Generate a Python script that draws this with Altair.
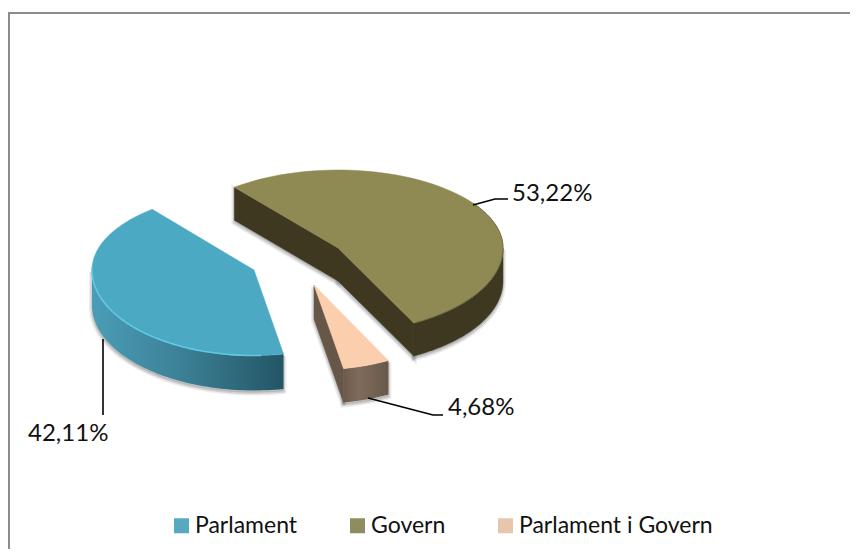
import math
import altair as alt
import pandas as pd

CATEGORIES = ["Parlament", "Govern", "Parlament i Govern"]
SHARES = [42.11, 53.22, 4.68]
LABELS = ["42,11%", "53,22%", "4,68%"]
COLORS = ["#4BA9C4", "#8F8953", "#FBCFAE"]
SWATCHES = ["#45A0BA", "#83804F", "#E3C0A4"]

FONT = "Lato"
FIRST_ANGLE = 79.5
DEPTH = {"Parlament": 35, "Govern": 33, "Parlament i Govern": 34}
# centre x, centre y, x radius, back y radius, front y radius
GEOM = {
    "Parlament": (254, 270, 162, 78, 85.5),
    "Govern": (338, 248, 165, 78, 84.5),
    "Parlament i Govern": (314, 285, 162, 78, 85),
}

W, H = 842, 541
X = alt.X("x:Q", scale=alt.Scale(domain=[8, 8 + W]), axis=None)
Y = alt.Y("y:Q", scale=alt.Scale(domain=[8 + H, 8]), axis=None)

spans = []
a = FIRST_ANGLE
for c, s in zip(CATEGORIES, SHARES):
    e = a + s / sum(SHARES) * 360
    spans.append((c, a, e))
    a = e
SPAN = {c: (s, e) for c, s, e in spans}


def pt(c, t, dz=0):
    cx, cy, rx, rb, rf = GEOM[c]
    r = math.radians(t)
    s = math.sin(r)
    return (cx + rx * math.cos(r), cy + (rf if s > 0 else rb) * s + dz)


def arc(c, t0, t1, dz=0, n=70):
    return [pt(c, t0 + (t1 - t0) * i / n, dz) for i in range(n + 1)]


def poly(points, close=True, **mark):
    pts = list(points) + ([points[0]] if close else [])
    df = pd.DataFrame({"x": [p[0] for p in pts], "y": [p[1] for p in pts], "i": range(len(pts))})
    return alt.Chart(df).mark_line(**mark).encode(x=X, y=Y, order="i:Q")


def grad(stops):
    return alt.Gradient(
        gradient="linear", x1=0, y1=0, x2=1, y2=0,
        stops=[alt.GradientStop(offset=o, color=k) for o, k in stops],
    )


def wall(c, t0, t1):
    d = DEPTH[c]
    return arc(c, t0, t1) + arc(c, t1, t0, d)


def radial(c, t):
    d = DEPTH[c]
    cx, cy = GEOM[c][:2]
    p = pt(c, t)
    return [(cx, cy), p, (p[0], p[1] + d), (cx, cy + d)]


def shadow(points):
    shifted = [(x, y + 2) for x, y in points]
    return [
        poly(shifted, fill="#000000", fillOpacity=0.06, stroke="#000000", strokeOpacity=0.07, strokeWidth=6),
        poly(shifted, fill="#000000", fillOpacity=0.06, stroke="#000000", strokeOpacity=0.12, strokeWidth=3),
    ]


layers = []

rows_top = {c: arc(c, *SPAN[c]) + [GEOM[c][:2]] for c in CATEGORIES}

# Parlament
c = "Parlament"
s, e = SPAN[c]
w = wall(c, s, 180)
layers += shadow(w)
layers.append(poly(w, fill=grad([(0, "#4A9DB6"), (0.5, "#3B7E94"), (1, "#235665")]), strokeWidth=0))

# Govern
c = "Govern"
s, e = SPAN[c]
end = e - 360
r1 = radial(c, s)
r2 = radial(c, end)
w = wall(c, 0, end)
for part in (r1, r2, w):
    layers += shadow(part)
for part in (r1, r2, w):
    layers.append(poly(part, fill="#3E3820", stroke="#3E3820", strokeWidth=0.5))

# Parlament i Govern
c = "Parlament i Govern"
s, e = SPAN[c]
s -= 360
e -= 360
r = radial(c, e)
w = wall(c, s, e)
layers += shadow(r) + shadow(w)
layers.append(poly(r, fill="#675748", stroke="#675748", strokeWidth=0.5))
layers.append(poly(w, fill=grad([(0, "#6B5B4C"), (0.35, "#806B5A"), (1, "#67584A")]), strokeWidth=0))

# top faces, colour scale and legend
legend = alt.Legend(
    orient="none", legendX=162, legendY=506, title=None, direction="horizontal", columns=3,
    columnPadding=48, symbolType="square", symbolSize=225, symbolStrokeWidth=0,
    labelFont=FONT, labelFontSize=23, labelColor="#111111", labelOffset=2, labelLimit=400, padding=0,
)
for c, col in zip(CATEGORIES, COLORS):
    layers.append(poly(rows_top[c], fill=col, stroke=col, strokeWidth=0.5))


def inner(c):
    s, e = SPAN[c]
    cx, cy = GEOM[c][:2]
    p = pt(c, (s + e) / 2)
    return (cx + 0.6 * (p[0] - cx), cy + 0.6 * (p[1] - cy))


key = pd.DataFrame({"cat": CATEGORIES, "x": [inner(c)[0] for c in CATEGORIES],
                    "y": [inner(c)[1] for c in CATEGORIES]})
layers.append(
    alt.Chart(key).mark_point(shape="square", filled=True, size=1, opacity=0.9).encode(
        x=X, y=Y,
        color=alt.Color("cat:N", sort=CATEGORIES,
                        scale=alt.Scale(domain=CATEGORIES, range=SWATCHES), legend=legend),
    )
)

# rim highlights
s, _ = SPAN["Parlament"]
layers.append(poly(arc("Parlament", s + 8, 182), close=False, stroke="#62C8E4", strokeWidth=1.6))
layers.append(poly(arc("Govern", -35, 62), close=False, stroke="#6F6A3C", strokeWidth=1))

# leader lines
LEADERS = [
    [(103, 339), (103, 415)],
    [(473, 205), (495, 199), (508, 199)],
    [(368, 398), (433, 415), (443, 415)],
]
for l in LEADERS:
    layers.append(poly(l, close=False, stroke="#000000", strokeWidth=1.6))

# value labels
lab = pd.DataFrame({"t": LABELS, "x": [28, 512, 448], "y": [441, 201, 415]})
layers.append(
    alt.Chart(lab).mark_text(align="left", baseline="alphabetic", font=FONT, fontSize=24, color="#111111")
    .encode(x=X, y=Y, text="t:N")
)

# chart border: top and left edges only
border = "#8C8C8C"
layers.append(alt.Chart(pd.DataFrame({"a": [0]})).mark_rule(color=border, strokeWidth=2).encode(
    x=alt.value(0), x2=alt.value(W), y=alt.value(5)))
layers.append(alt.Chart(pd.DataFrame({"a": [0]})).mark_rule(color=border, strokeWidth=2).encode(
    x=alt.value(1), y=alt.value(4), y2=alt.value(H)))

chart = alt.layer(*layers).properties(
    width=W, height=H, padding=0, autosize=alt.AutoSizeParams(type="none"),
).configure_view(stroke=None)

chart.save("out.html", embed_options={"renderer": "svg", "actions": False})
